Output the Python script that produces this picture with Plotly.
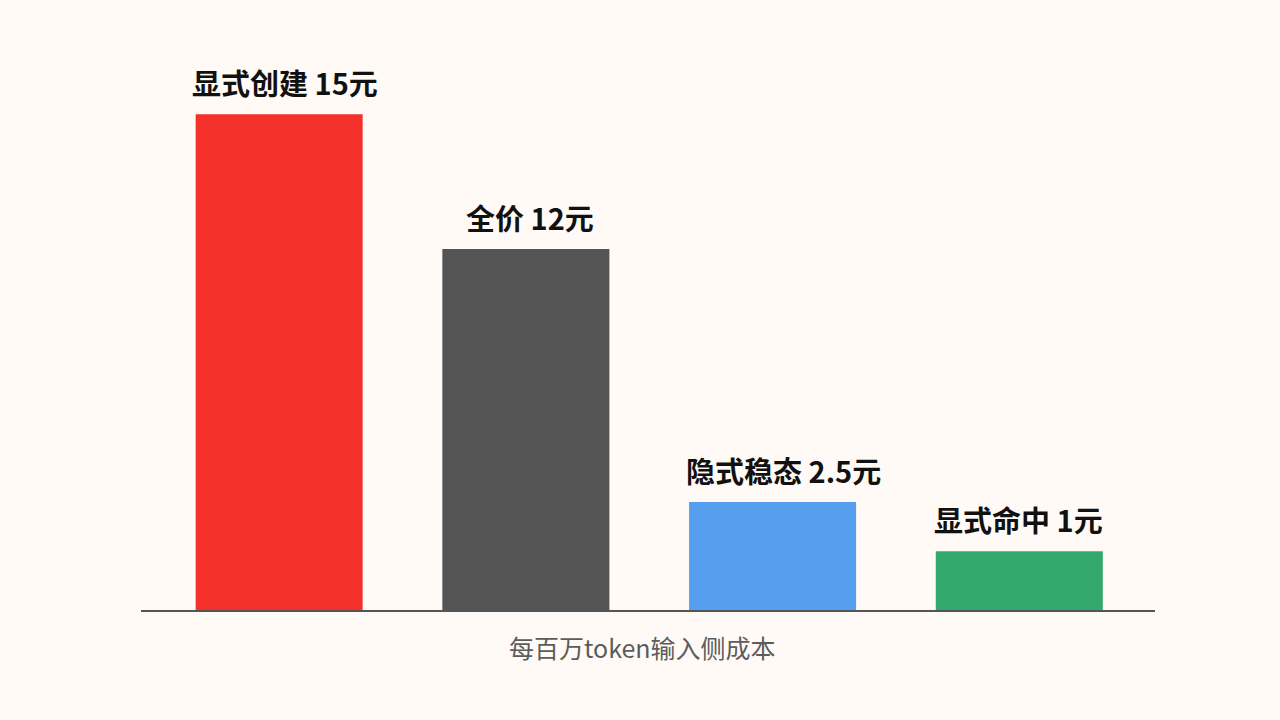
import plotly.graph_objects as go

# bar labels as printed on the chart
categories = ["显式创建", "全价", "隐式稳态", "显式命中"]
labels = ["显式创建 15元", "全价 12元", "隐式稳态 2.5元", "显式命中 1元"]
# drawn heights (bars are not to scale with the printed prices)
heights = [15, 10.92, 3.27, 1.78]
colors = ["#f4312b", "#545454", "#559fee", "#33a86d"]
# the labels do not sit quite centred over their bars
label_shift = [6, 4, 11, -1]

fig = go.Figure()

fig.add_trace(
    go.Bar(
        x=categories,
        y=heights,
        marker_color=colors,
        marker_line_width=0,
    )
)

# labels as annotations so they can float further above the bars
for cat, h, label, shift in zip(categories, heights, labels, label_shift):
    fig.add_annotation(
        x=cat,
        y=h,
        text=label,
        showarrow=False,
        yanchor="bottom",
        yshift=9,
        xshift=shift,
        font=dict(size=29, color="#111111", family="Noto Sans CJK SC", weight=700),
    )

fig.add_annotation(
    xref="paper",
    yref="paper",
    x=0.495,
    y=-0.104,
    text="每百万token输入侧成本",
    showarrow=False,
    font=dict(size=25, color="#5c5c5c", family="Noto Sans CJK SC"),
)

fig.update_layout(
    width=1280,
    height=720,
    autosize=False,
    margin=dict(l=141, r=125, t=60, b=110),
    paper_bgcolor="#fffaf5",
    plot_bgcolor="#fffaf5",
    bargap=0.323,
    showlegend=False,
    font=dict(family="Noto Sans CJK SC"),
)
fig.update_xaxes(
    range=[-0.56, 3.55],
    showticklabels=False,
    showline=True,
    linecolor="#555555",
    linewidth=1.5,
    ticks="",
    showgrid=False,
    zeroline=False,
)
fig.update_yaxes(visible=False, range=[0, 16.64], showgrid=False, zeroline=False)

# drop the default page margin so the figure fills the window
fig.write_html(
    "out.html",
    config={"displayModeBar": False},
    post_script="document.body.style.margin='0';",
)
